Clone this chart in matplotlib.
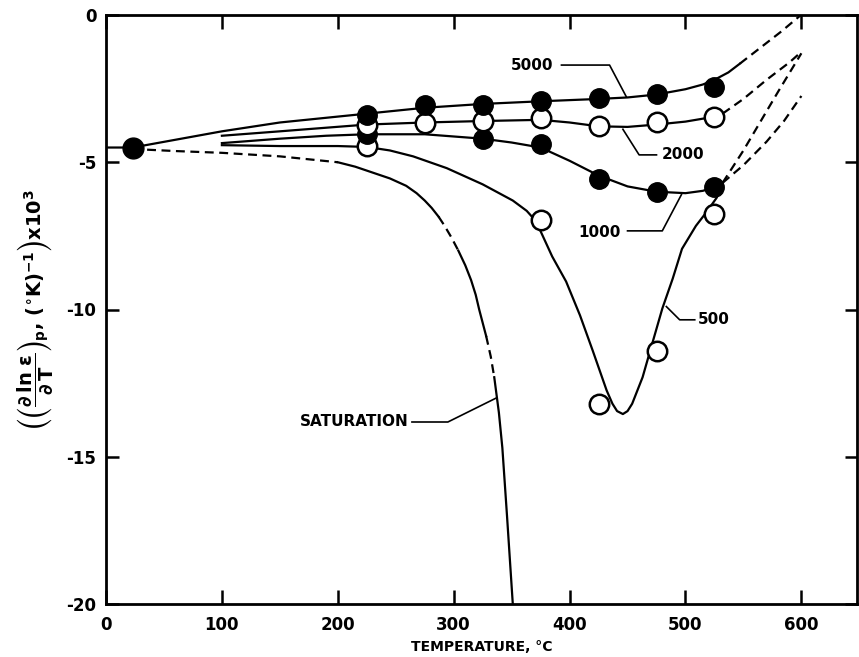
import matplotlib
matplotlib.use('Agg')
import matplotlib.pyplot as plt

plt.rcParams['font.family'] = 'DejaVu Sans'
plt.rcParams['font.weight'] = 'bold'
plt.rcParams['axes.unicode_minus'] = False
plt.rcParams['mathtext.fontset'] = 'dejavusans'
plt.rcParams['mathtext.default'] = 'bf'

# measured points, temperature in deg C
ref_t, ref_v = [23], [-4.5]
t5000 = [225, 275, 325, 375, 425, 475, 525]
v5000 = [-3.38, -3.07, -3.07, -2.93, -2.82, -2.68, -2.45]
t2000 = [225, 275, 325, 375, 425, 475, 525]
v2000 = [-3.72, -3.68, -3.60, -3.50, -3.78, -3.64, -3.47]
t1000 = [225, 325, 375, 425, 475, 525]
v1000 = [-4.05, -4.22, -4.39, -5.57, -6.00, -5.85]
t500 = [225, 375, 425, 475, 525]
v500 = [-4.46, -6.96, -13.2, -11.4, -6.76]

# faired curves (solid part, then dashed extrapolation)
c5000_x = [0, 23, 100, 150, 225, 275, 325, 375, 425, 450, 475, 500, 515, 525, 537, 547]
c5000_y = [-4.5, -4.5, -3.95, -3.65, -3.35, -3.15, -3.02, -2.93, -2.85, -2.8, -2.7, -2.52, -2.36, -2.2, -1.95, -1.65]
d5000_x = [547, 565, 583, 599]
d5000_y = [-1.65, -1.1, -0.55, -0.02]

c2000_x = [100, 150, 225, 275, 325, 375, 400, 425, 450, 475, 500, 518, 532]
c2000_y = [-4.1, -3.95, -3.72, -3.65, -3.6, -3.56, -3.65, -3.78, -3.8, -3.72, -3.62, -3.5, -3.35]
d2000_x = [532, 550, 570, 590, 600]
d2000_y = [-3.35, -2.85, -2.2, -1.6, -1.25]

c1000_x = [100, 150, 190, 225, 275, 325, 350, 375, 400, 425, 450, 475, 500, 515, 525, 532]
c1000_y = [-4.35, -4.2, -4.1, -4.05, -4.05, -4.2, -4.33, -4.5, -4.95, -5.45, -5.82, -6.0, -6.05, -5.97, -5.85, -5.7]
d1000_x = [532, 550, 570, 585, 600]
d1000_y = [-5.7, -5.1, -4.3, -3.6, -2.75]

c500_x = [100, 150, 200, 225, 245, 265, 294, 325, 351, 363, 371, 385, 397, 409, 420, 432, 437,
          441, 446, 450, 454, 463, 471, 480, 489, 497, 509, 518, 527, 532]
c500_y = [-4.42, -4.45, -4.45, -4.48, -4.6, -4.8, -5.2, -5.75, -6.3, -6.65, -7.0, -8.2, -9.05, -10.2,
          -11.4, -12.75, -13.2, -13.45, -13.55, -13.45, -13.2, -12.3, -11.2, -9.97, -8.95, -7.94,
          -7.16, -6.7, -6.2, -5.7]
d500_x = [532, 550, 565, 580, 600]
d500_y = [-5.7, -4.6, -3.6, -2.6, -1.3]

# saturation curve: alternating dashed / solid pieces
sat_pieces = [
    ([23, 60, 100, 150, 200], [-4.55, -4.62, -4.68, -4.8, -5.0], 'dash'),
    ([200, 215, 230, 245, 259, 268, 275, 281, 287],
     [-5.0, -5.15, -5.35, -5.55, -5.8, -6.05, -6.3, -6.55, -6.85], 'solid'),
    ([287, 292, 298, 304], [-6.85, -7.15, -7.55, -8.0], 'dash'),
    ([304, 310, 315, 319, 322, 325, 328], [-8.0, -8.5, -9.0, -9.5, -10.0, -10.45, -10.9], 'solid'),
    ([328, 332, 335], [-10.9, -11.6, -12.3], 'dash'),
    ([335, 339, 342, 346, 351], [-12.3, -13.5, -14.7, -17.0, -20.0], 'solid'),
]

fig = plt.figure(figsize=(8.59, 6.57), dpi=100)
ax = fig.add_axes([106 / 859, 53 / 657, 751 / 859, 589 / 657])

lw = 1.6
dash = (0, (4, 2.5))
for cx, cy, dx, dy in [(c5000_x, c5000_y, d5000_x, d5000_y),
                       (c2000_x, c2000_y, d2000_x, d2000_y),
                       (c1000_x, c1000_y, d1000_x, d1000_y),
                       (c500_x, c500_y, d500_x, d500_y)]:
    ax.plot(cx, cy, color='k', lw=lw, zorder=2, solid_joinstyle='round')
    ax.plot(dx, dy, color='k', lw=lw, ls=dash, zorder=2)

for sx, sy, kind in sat_pieces:
    ax.plot(sx, sy, color='k', lw=lw, ls=dash if kind == 'dash' else '-', zorder=2,
            solid_joinstyle='round')

ms = 14
ax.plot(ref_t, ref_v, 'o', color='k', ms=15, zorder=4)
ax.plot(t500, v500, 'o', mfc='white', mec='k', mew=1.8, ms=ms, ls='none', zorder=3)
ax.plot(t1000, v1000, 'o', mfc='k', mec='k', ms=ms, ls='none', zorder=4)
ax.plot(t2000, v2000, 'o', mfc='white', mec='k', mew=1.8, ms=ms, ls='none', zorder=5)
ax.plot(t5000, v5000, 'o', mfc='k', mec='k', ms=ms, ls='none', zorder=6)

# curve labels with leader lines
lab = dict(fontsize=11, fontweight='bold', va='center')
ax.text(368, -1.70, '5000', ha='center', **lab)
ax.plot([393, 434.5, 449], [-1.7, -1.7, -2.78], color='k', lw=1.2)
ax.text(498, -4.75, '2000', ha='center', **lab)
ax.plot([475, 460, 446], [-4.75, -4.75, -3.88], color='k', lw=1.2)
ax.text(426, -7.37, '1000', ha='center', **lab)
ax.plot([450, 480, 496.5], [-7.33, -7.33, -6.1], color='k', lw=1.2)
ax.text(511, -10.35, '500', ha='left', **lab)
ax.plot([483.5, 495, 508], [-9.9, -10.35, -10.35], color='k', lw=1.2)
ax.text(214, -13.82, 'SATURATION', ha='center', **lab)
ax.plot([264, 295, 337], [-13.82, -13.82, -13.0], color='k', lw=1.2)

ax.set_xlim(0, 648)
ax.set_ylim(-20, 0)
ax.set_xticks([0, 100, 200, 300, 400, 500, 600])
ax.set_yticks([0, -5, -10, -15, -20])
ax.tick_params(axis='x', direction='in', length=10, width=1.8, top=True,
               labelsize=12, pad=9)
ax.tick_params(axis='y', direction='in', length=9, width=1.8, right=True,
               labelsize=12, pad=7)
for lbl in ax.get_xticklabels() + ax.get_yticklabels():
    lbl.set_fontweight('bold')
for spine in ax.spines.values():
    spine.set_linewidth(2)

ax.set_xlabel('TEMPERATURE, °C', fontsize=10, fontweight='bold', labelpad=4)
ax.set_ylabel(r'$\left(\left(\dfrac{\partial\,\ln\,\varepsilon}{\partial\,T}\right)_{p},\,'
              r'(^{\circ}K)^{-1}\right)\mathbf{x}10^{3}$', fontsize=14, labelpad=8)

fig.savefig('out.png', dpi=100)
